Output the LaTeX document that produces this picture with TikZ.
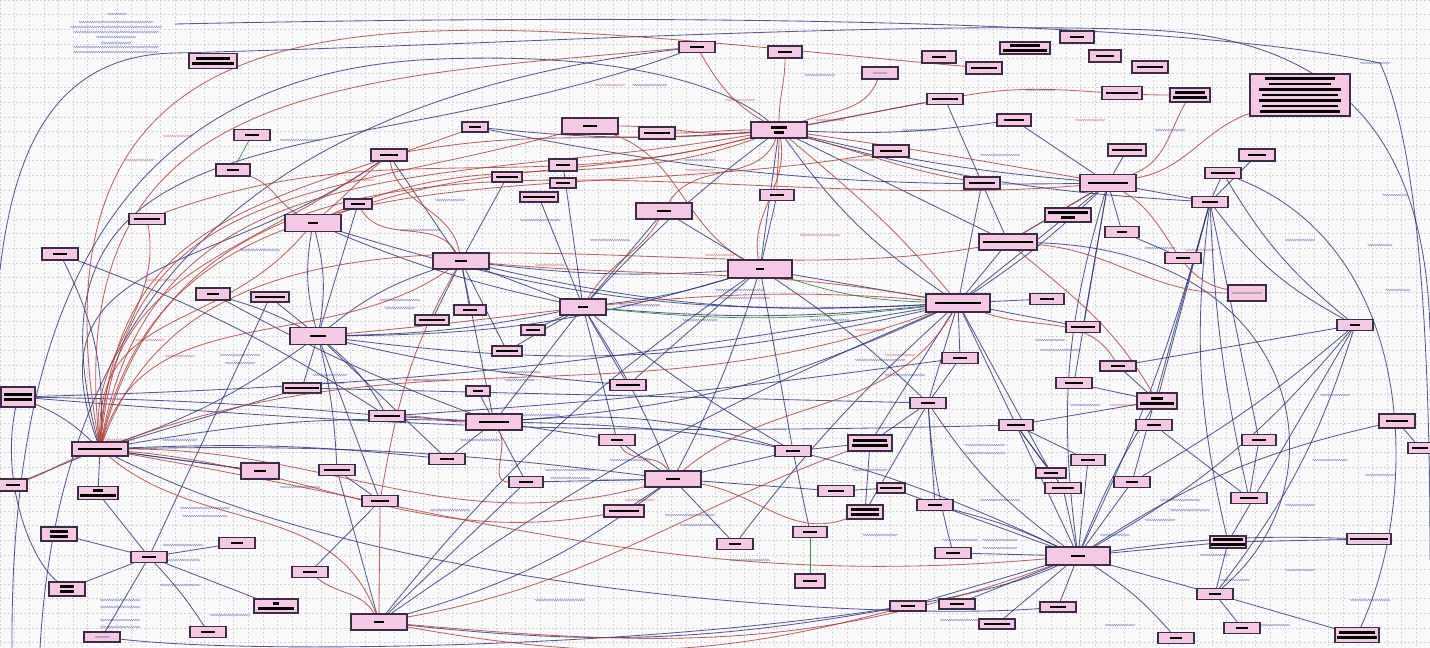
\documentclass[tikz,border=0pt]{standalone}
\usepackage{tikz}
\usetikzlibrary{decorations.pathmorphing,backgrounds}
\definecolor{boxpink}{RGB}{245,200,228}
\definecolor{boxline}{RGB}{60,45,70}
\definecolor{navy}{RGB}{45,50,120}
\definecolor{brick}{RGB}{175,62,55}
\definecolor{leaf}{RGB}{60,140,70}
\definecolor{lav}{RGB}{150,155,200}
\definecolor{rose}{RGB}{220,160,160}
\definecolor{gridgray}{RGB}{212,212,216}
\definecolor{paper}{RGB}{250,250,252}
\newcommand{\bw}[1]{\rule{#1pt}{2.6pt}}
\tikzset{
  pbox/.style={draw=boxline, fill=boxpink, line width=1.1pt, inner sep=0pt, align=center, font=\fontsize{3}{5.5}\selectfont},
  bl/.style={draw=navy, line width=0.85pt, opacity=0.8},
  rd/.style={draw=brick, line width=0.85pt, opacity=0.8},
  gn/.style={draw=leaf, line width=0.7pt},
  gridline/.style={draw=gridgray, line width=0.4pt, dash pattern=on 2pt off 2pt},
  lbl/.style={draw=lav, line width=0.55pt, decorate, decoration={snake, segment length=2.2pt, amplitude=0.8pt}},
  rlbl/.style={lbl, draw=rose}
}
\begin{document}
\begin{tikzpicture}[x=1pt,y=1pt]
  \useasboundingbox (0,0) rectangle (1430,-648);

  \foreach \n/\x/\y/\w/\h/\c in {
    t1/213/61/48/15/{\bw{34}\\\bw{42}}, t2/252/135/36/11/\bw{14}, t3/233/170/34/12/\bw{12},
    t4/147/219/36/11/\bw{26}, t5/60/254/36/12/\bw{14}, hA/313/223/56/17/\bw{10},
    t6/389/155/36/12/\bw{18}, t7/358/204/28/10/\bw{14}, t8/213/294/34/12/\bw{12},
    t9/270/297/38/10/\bw{30}, hB/318/336/56/17/\bw{16}, hC/461/261/56/16/\bw{12},
    t10/475/127/26/10/\bw{12}, hD/590/126/56/16/\bw{14}, t11/657/133/36/12/\bw{26},
    t12/563/165/28/12/\bw{14}, t13/563/183/26/10/\bw{14}, t14/507/177/30/10/\bw{22},
    t15/539/197/38/10/\bw{32}, u1/697/47/36/11/\bw{14}, u2/785/52/34/12/\bw{14},
    u4/880/73/36/12/{\color{boxline!40}\bw{14}}, hE/779/130/56/16/{\bw{16}\\\bw{10}},
    u5/939/57/34/12/\bw{14}, u6/984/68/36/12/\bw{26}, u7/1025/48/50/12/{\bw{30}\\\bw{44}},
    u8/1077/37/34/12/\bw{14}, u9/1105/56/32/12/\bw{18}, u10/1150/67/36/12/\bw{26},
    u11/1122/93/40/13/\bw{32}, u12/1190/95/40/14/{\bw{30}\\\bw{34}},
    big/1300/95/100/42/{\bw{70}\\\bw{62}\\\bw{82}\\\bw{76}\\\bw{82}\\\bw{76}\\\bw{80}},
    u13/945/99/36/11/\bw{26}, u14/1014/120/34/12/\bw{20}, u15/1127/150/38/12/\bw{30},
    u16/1257/155/36/12/\bw{18}, hF/1108/183/56/17/\bw{40}, u17/1223/173/36/11/\bw{24},
    u18/1210/202/36/11/\bw{16}, u19/982/183/36/12/\bw{26}, u20/891/151/36/12/\bw{22},
    u21/1068/215/46/14/{\bw{40}\\\bw{14}}, u22/1122/232/34/11/\bw{10}, hG/1008/242/58/16/\bw{50},
    u23/777/195/34/11/\bw{14}, hH/664/211/56/16/\bw{14}, hI/760/269/64/18/\bw{8},
    hJ/958/303/64/18/\bw{46}, u24/1247/293/38/16/{\color{boxline!40}\bw{30}},
    u25/1183/258/36/11/\bw{14}, u26/1047/299/34/11/\bw{14}, hK/583/307/46/16/\bw{10},
    m1/470/310/32/10/\bw{14}, m2/432/320/34/10/\bw{26}, m3/533/330/24/10/\bw{14},
    m4/507/351/30/10/\bw{22}, m6/302/388/38/10/\bw{34}, m7/478/391/24/10/\bw{10},
    m8/387/416/36/11/\bw{26}, hL/494/422/56/16/\bw{30}, m9/617/440/36/11/\bw{12},
    m10/628/385/36/11/\bw{24}, m13/960/358/36/11/\bw{14}, m14/1083/327/34/11/\bw{24},
    m15/1118/366/36/10/\bw{14}, m16/1074/383/36/11/\bw{18}, m17/1157/401/40/16/{\bw{12}\\\bw{34}},
    m18/1154/425/36/11/\bw{14}, m19/1259/440/34/11/\bw{14}, m20/1355/325/36/11/\bw{10},
    m21/1397/421/36/14/\bw{22}, m22/1420/448/24/11/\bw{16}, m23/928/403/36/11/\bw{14},
    m24/1016/425/34/11/\bw{18}, m25/1088/460/34/11/\bw{14}, m26/1051/473/30/10/\bw{14},
    m27/1063/488/36/11/\bw{22}, m28/1132/482/36/11/\bw{12}, m29/1249/498/36/11/\bw{18},
    m30/1228/542/36/12/{\bw{30}\\\bw{34}}, m31/1369/539/44/11/\bw{38}, m32/1215/594/36/11/\bw{12},
    m33/1357/635/44/15/{\bw{36}\\\bw{40}}, m34/1176/638/36/11/\bw{12}, hM/1078/556/64/18/\bw{14},
    m35/1242/628/36/11/\bw{12}, m36/1058/607/36/10/\bw{16}, m38/997/624/36/10/\bw{26},
    m39/957/604/36/10/\bw{14}, m40/908/606/36/10/\bw{14}, m41/953/553/36/11/\bw{14},
    m42/935/505/36/11/\bw{14}, m43/891/488/28/10/\bw{22}, m44/865/512/36/14/{\bw{28}\\\bw{28}},
    m45/836/491/36/11/\bw{16}, m46/870/443/44/16/{\bw{34}\\\bw{36}}, m47/793/451/36/11/\bw{14},
    hN/673/479/56/16/\bw{14}, m48/810/532/34/11/\bw{14}, m49/810/581/30/14/\bw{14},
    m50/735/544/36/11/\bw{12}, m51/624/511/40/12/\bw{30}, m52/526/482/34/11/\bw{14},
    m53/447/459/36/11/\bw{14}, m54/337/470/36/11/\bw{26}, m55/380/501/36/11/\bw{18},
    m56/260/471/38/16/\bw{12}, hO/100/449/56/14/\bw{44}, l1/13/485/28/12/\bw{14},
    l2/98/493/40/13/{\bw{10}\\\bw{36}}, l3/59/534/36/14/{\bw{18}\\\bw{18}}, l4/149/557/36/11/\bw{14},
    l5/237/543/36/11/\bw{12}, l6/310/572/36/11/\bw{14}, l7/67/589/36/14/{\bw{14}\\\bw{14}},
    l9/276/606/44/14/{\bw{6}\\\bw{36}}, l10/208/632/36/11/\bw{14},
    l11/102/637/36/10/{\color{boxline!40}\bw{14}}, hP/379/622/56/16/\bw{10},
    l12/18/397/34/20/{\bw{28}\\\bw{28}}}
    \node[pbox, minimum width=\w pt, minimum height=\h pt] (\n) at (\x,-\y) {\c};

  \coordinate (eW1) at (0,-270);
  \coordinate (eW2) at (12,-648);
  \coordinate (eW3) at (40,-648);
  \coordinate (eN0) at (175,-24);
  \coordinate (eN1) at (1380,-63);
  \coordinate (eE1) at (1430,-330);
  \coordinate (eE2) at (1430,-560);

  \begin{pgfonlayer}{background}
    \fill[paper] (0,0) rectangle (1430,-648);
    \foreach \gx in {0,14.6,...,1430} \draw[gridline] (\gx,0) -- (\gx,-648);
    \foreach \gy in {0,14.6,...,648} \draw[gridline] (0,-\gy) -- (1430,-\gy);

    \foreach \x/\y/\l in {117/14/20,116/22/75,116/27/92,116/32/85,116/37/40,116/43/30,116/47/85,116/52/85,
      1375/63/30,1395/195/25,1380/245/25,1398/290/25,1335/395/30,1180/500/40,1190/510/40,1160/520/30,
      1000/540/35,1000/548/35,985/445/40,985/453/40,1085/405/30,1150/420/25,740/290/50,745/298/50,
      640/305/40,700/320/35,520/372/40,520/380/30,400/300/40,400/308/30,330/375/35,330/383/30,
      430/380/35,240/355/40,240/363/30,205/508/50,205/516/45,183/545/40,180/560/40,120/620/40,
      120/627/40,120/600/40,120/607/40,180/585/40,230/615/40,300/487/40,570/470/50,570/478/40,
      630/460/40,620/480/40,690/515/50,700/525/40,560/600/50,450/510/40,750/560/40,870/470/35,
      880/535/35,1000/500/40,1115/535/30,1235/580/30,1270/625/40,1215/555/30,1300/505/30,
      1370/600/40,300/140/40,650/85/35,820/75/30,920/130/35,1040/90/30,1000/155/40,1170/130/30,
      1160/248/30,1300/240/30,880/360/50,905/375/40,830/320/40,1050/340/30,1060/350/40,260/250/40,
      180/440/35,540/220/40,420/230/40,450/200/30,610/240/40,700/160/30,480/440/40,540/415/40,
      960/540/35,960/620/40,1120/625/30,1300/570/30,1330/460/35,1380/475/30}
      \draw[lbl] ({\x-\l/2},-\y) -- ++(\l,0);
    \foreach \x/\y/\l in {178/136/30,140/160/30,160/280/30,180/356/30,120/440/30,740/100/30,
      830/120/30,860/160/30,610/85/30,700/170/30,820/235/40,870/330/30,900/355/30,1090/120/30,
      1200/250/30,150/340/30,360/180/30,550/265/30,720/255/30,640/500/30,420/380/30,1125/405/30}
      \draw[rlbl] ({\x-\l/2},-\y) -- ++(\l,0);

    \draw[bl] (eW1) .. controls (15,-140) and (60,-55) .. (175,-53) .. controls (500,-45) and (900,-20) .. (1150,-30) .. controls (1350,-40) and (1425,-150) .. (eE1);
    \draw[bl] (eN0) .. controls (600,-15) and (1150,-15) .. (eN1);
    \draw[bl] (eW2) .. controls (10,-300) and (120,-80) .. (420,-60) .. controls (600,-50) and (720,-80) .. (hE);
    \draw[bl] (eW3) .. controls (60,-300) and (250,-100) .. (u1);
    \draw[bl] (eN1) .. controls (1420,-150) and (1430,-350) .. (eE2);
    \draw[bl] (u17) .. controls (1420,-250) and (1420,-500) .. (m33);
    \draw[bl] (hG) .. controls (1300,-250) and (1350,-480) .. (m32);
    \draw[bl] (l11) .. controls (300,-660) and (900,-640) .. (hM);
    \draw[bl] (hO) .. controls (400,-600) and (900,-620) .. (m36);
    \draw[bl] (l12) .. controls (0,-480) and (30,-560) .. (l7);

    \foreach \a/\b/\k in {hO/l12/-10,hO/l1/0,hO/l2/0,hO/t5/-15,hO/hB/-8,hO/m6/0,hO/hL/6,hO/m53/4,
      hO/hN/4,hO/m56/0,t5/m8/6,l12/m8/2,t8/hL/-4,t9/l4/0,t9/hB/0,t8/hB/5,
      hA/hB/12,hA/hB/-12,t7/hB/0,hA/hK/-5,hA/hJ/-10,
      hB/m6/0,hB/m8/10,hB/m54/5,hB/m55/0,hB/hK/-5,hB/hI/-8,hB/hJ/-10,hB/m53/0,hB/hC/10,hB/m10/-4,
      hC/hK/0,hC/m2/0,hC/m1/0,hC/hL/0,hC/hI/-5,hC/hJ/-8,hC/t14/0,hC/m4/0,hC/t6/0,
      hK/m3/0,hK/m4/0,hK/hL/0,hK/hN/5,hK/m10/0,hK/m9/0,hK/hH/0,hK/hI/-5,hK/hJ/-5,hK/t15/0,
      hK/hE/5,hK/t12/0,hK/m47/-4,
      hL/m7/0,hL/m8/0,hL/m53/0,hL/m52/0,hL/hJ/-10,hL/m9/0,hL/m47/10,hL/hM/12,
      hI/hH/0,hI/hE/0,hI/hJ/0,hI/m10/0,hI/m23/5,hI/m47/0,hI/hN/5,hI/u23/0,hI/hP/-8,
      hJ/hG/0,hJ/m13/0,hJ/m26/0,hJ/m14/0,hJ/hF/-5,hJ/u19/0,hJ/m23/0,hJ/m24/0,hJ/u21/0,hJ/hE/10,
      hJ/m46/0,hJ/m50/-5,hJ/hP/-6,
      hE/hG/0,hE/u13/0,hE/u14/-5,hE/t10/5,hE/hF/-4,hE/u18/-6,
      hF/u18/0,hF/u21/0,hF/u15/0,hF/hG/0,hF/m14/0,hF/u14/0,hF/hM/-12,hF/u22/0,hF/m16/0,hF/t10/6,
      u18/m20/-12,u18/m17/0,u18/m28/0,u18/m29/-5,u18/m30/-10,u18/hM/5,u18/m19/0,u18/u17/0,
      m20/m28/5,m20/m30/0,m20/m32/10,m20/hM/10,m20/u17/10,m20/m15/0,
      m13/m23/0,m23/m42/0,m23/m41/-5,m23/m44/0,m23/hM/-10,m23/m46/0,
      m24/m25/0,m24/m27/0,m24/hM/0,m24/m26/0,m24/m17/0,
      hM/m41/0,hM/m40/0,hM/m39/0,hM/m38/0,hM/m36/0,hM/m34/8,hM/m32/0,hM/m30/0,hM/m28/0,hM/m27/0,
      hM/m25/0,hM/m42/-5,hM/m17/5,hM/m21/10,hM/m31/5,hM/m43/0,
      m17/m16/0,m17/m15/0,m18/m29/0,m19/m29/0,m21/m22/0,m30/m31/0,m30/m32/0,m32/m35/0,m32/m33/0,
      hN/m51/0,hN/m52/0,hN/m9/0,hN/m47/0,hN/m50/0,hN/hP/10,hN/m45/0,
      m47/m48/0,m47/m46/0,m45/m43/0,m46/m44/0,hP/m40/-8,hP/m52/0,hP/m54/0,
      l4/l2/0,l4/l3/0,l4/l5/0,l4/l7/0,l4/l9/0,l4/l10/5,l4/l11/0,
      m55/m54/0,m55/l6/0,m56/hO/0,u19/hG/0,u13/u19/0,u25/u22/0,u26/hJ/0,u16/u18/0,
      m6/m23/0,l12/hJ/-4,l12/m24/-3,m8/m13/-2}
      \draw[bl] (\a) to[bend left=\k] (\b);
    \foreach \a/\b/\o/\i in {hO/t6/110/215,hO/u1/105/200}
      \draw[bl] (\a) to[out=\o,in=\i, looseness=1.3] (\b);

    \foreach \a/\b/\o/\i/\s in {hO/hA/92/230/1.2,hO/t6/88/215/1.1,hO/t10/86/200/1.2,hO/hD/84/195/1.2,
      hO/u1/96/185/1.3,hO/hE/80/190/1.1,hO/u6/100/175/1.4,hO/hF/76/185/1,hO/hC/74/215/1,
      hO/u20/78/190/1,hO/t4/97/-80/1,hO/hG/70/190/0.9,
      hO/hM/-10/185/1,hO/m51/-5/190/1,hO/hP/-40/110/1,hO/hN/0/195/1,hO/l1/200/20/1,hO/hJ/20/200/1,
      hE/u1/150/-60/1,hE/u2/90/-90/1,hE/t11/180/0/1,hE/hD/185/0/1,hE/u4/20/-110/1,hE/u23/-90/90/1,
      hE/hH/-110/60/1,hE/u19/-15/170/1,hE/hF/-8/170/1,hE/u13/10/190/1,hE/t6/185/10/1,hE/hA/195/20/1,
      hE/hI/-80/100/1,hE/hJ/-40/130/1,
      t4/hE/20/195/1,hA/hE/25/200/1,hA/t6/40/220/1,hA/t3/150/-20/1,
      hF/u24/-30/170/1,hF/u12/20/-120/1,big/hF/200/10/1,hF/hG/-150/30/1,u12/u13/180/10/1,
      hJ/hC/170/-5/1,hJ/hB/175/5/1,hJ/m15/-20/120/1,hG/u24/-5/180/1,
      hC/t6/100/-80/1,hC/t7/120/-60/1,hC/m55/-120/80/1,
      hL/m8/180/0/1,hL/m52/-60/180/1,
      hP/l6/120/-40/1,hP/m40/-10/195/1,hP/hM/-5/200/1,hP/m55/90/-90/1,
      hN/m9/120/-60/1,hN/hJ/40/-120/1,hN/m44/-10/200/1,
      m46/hP/200/10/1,hG/m17/-40/120/1,hK/hH/60/-120/1,hI/hD/150/-20/1}
      \draw[rd] (\a) to[out=\o,in=\i,looseness=\s] (\b);

    \draw[gn] (t3) -- (t2);
    \draw[gn] (hI) to[bend right=8] (hJ);
    \draw[gn] (hJ) to[bend left=6] (hK);
    \draw[gn] (m48) -- (m49);
  \end{pgfonlayer}
\end{tikzpicture}
\end{document}
